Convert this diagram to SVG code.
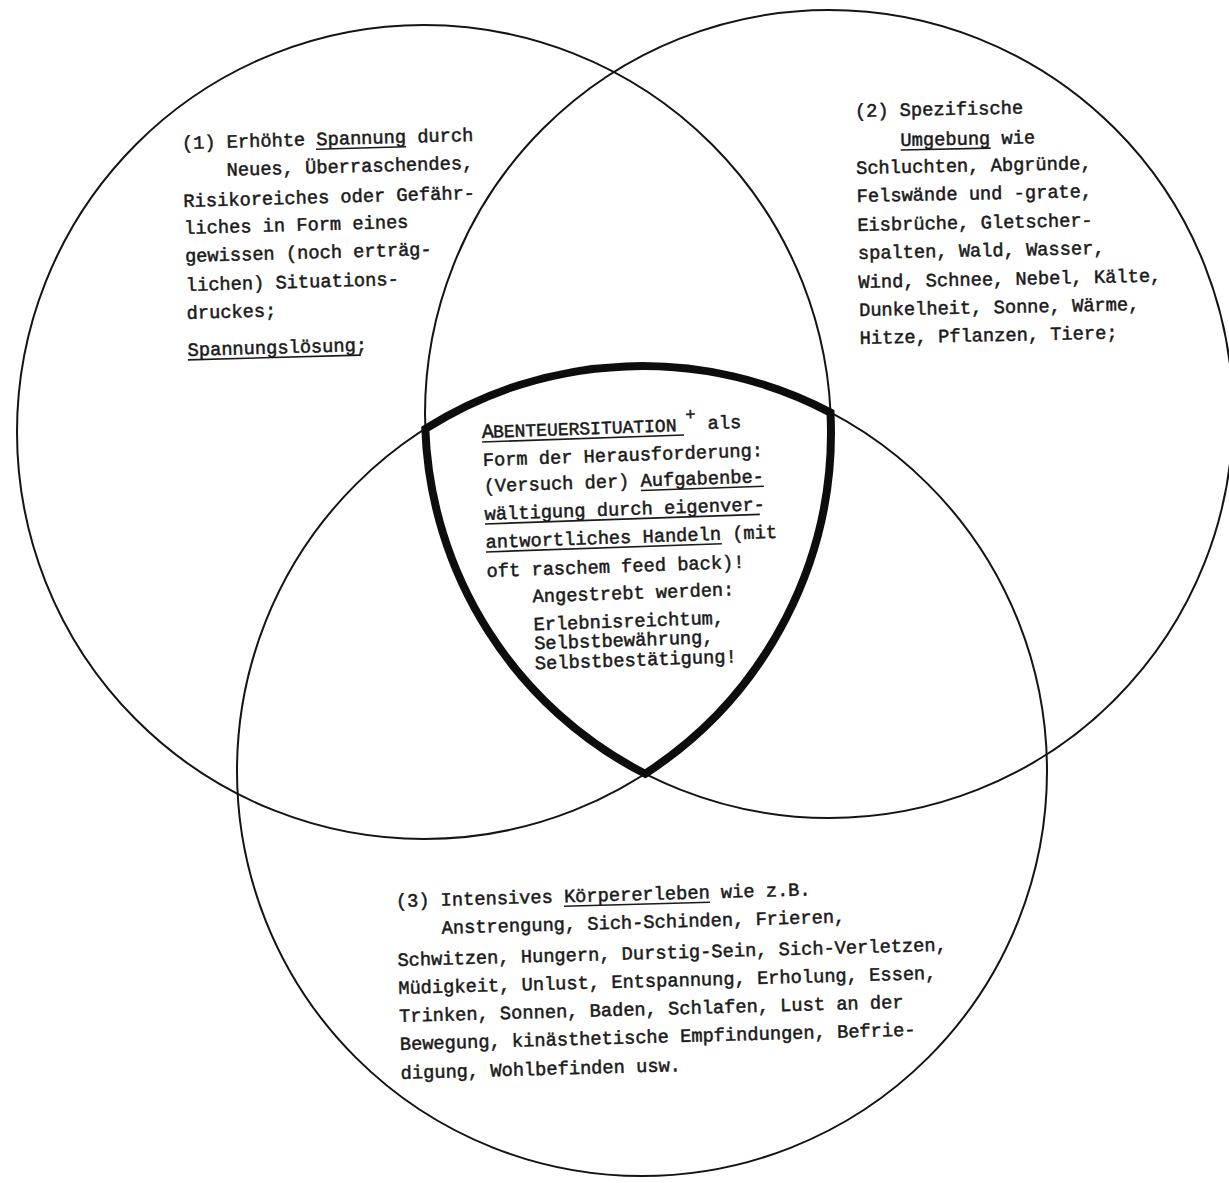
<svg xmlns="http://www.w3.org/2000/svg" width="1229" height="1183" viewBox="0 0 1229 1183">
<style>
.c{fill:none;stroke:#141414;stroke-width:2}
.core{fill:none;stroke:#0d0d0d;stroke-width:8;stroke-linejoin:miter;stroke-miterlimit:10}
.t{font-family:"Liberation Mono","DejaVu Sans Mono",monospace;font-size:18.7px;fill:#1a1a1a;stroke:#1a1a1a;stroke-width:0.5;font-weight:normal}
.u{stroke:#1a1a1a;stroke-width:1.6}
</style>
<rect width="1229" height="1183" fill="#ffffff"/>
<g id="set1">
<circle class="c" cx="424" cy="432" r="407"/>
<g transform="rotate(-1.6 182 149)">
<text class="t" x="182" y="149">(1) Erhöhte Spannung durch</text>
<line class="u" x1="316" y1="153" x2="406" y2="153"/>
<text class="t" x="226" y="177">Neues, Überraschendes,</text>
<text class="t" x="182" y="207">Risikoreiches oder Gefähr-</text>
<text class="t" x="182" y="234">liches in Form eines</text>
<text class="t" x="182" y="262">gewissen (noch erträg-</text>
<text class="t" x="182" y="291">lichen) Situations-</text>
<text class="t" x="182" y="319">druckes;</text>
<text class="t" x="182" y="356">Spannungslösung;</text>
<line class="u" x1="182" y1="360" x2="355" y2="360"/>
</g>
</g>
<g id="set2">
<circle class="c" cx="829" cy="414" r="404"/>
<g transform="rotate(-1.2 855 117)">
<text class="t" x="855" y="117">(2) Spezifische</text>
<text class="t" x="900" y="147">Umgebung wie</text>
<line class="u" x1="900" y1="151" x2="990" y2="151"/>
<text class="t" x="855" y="174">Schluchten, Abgründe,</text>
<text class="t" x="855" y="202">Felswände und -grate,</text>
<text class="t" x="855" y="231">Eisbrüche, Gletscher-</text>
<text class="t" x="855" y="259">spalten, Wald, Wasser,</text>
<text class="t" x="855" y="288">Wind, Schnee, Nebel, Kälte,</text>
<text class="t" x="855" y="316">Dunkelheit, Sonne, Wärme,</text>
<text class="t" x="855" y="344">Hitze, Pflanzen, Tiere;</text>
</g>
</g>
<g id="set3">
<circle class="c" cx="642" cy="771" r="405"/>
<g transform="rotate(-1.6 396 907)">
<text class="t" x="396" y="907">(3) Intensives Körpererleben wie z.B.</text>
<line class="u" x1="564" y1="911" x2="710" y2="911"/>
<text class="t" x="441" y="935">Anstrengung, Sich-Schinden, Frieren,</text>
<text class="t" x="396" y="966">Schwitzen, Hungern, Durstig-Sein, Sich-Verletzen,</text>
<text class="t" x="396" y="994">Müdigkeit, Unlust, Entspannung, Erholung, Essen,</text>
<text class="t" x="396" y="1022">Trinken, Sonnen, Baden, Schlafen, Lust an der</text>
<text class="t" x="396" y="1050">Bewegung, kinästhetische Empfindungen, Befrie-</text>
<text class="t" x="396" y="1079">digung, Wohlbefinden usw.</text>
</g>
</g>
<g id="core">
<path class="core" d="M425.3 428.9 A405 405 0 0 1 830.5 412.6 A407 407 0 0 1 645.1 773.8 A404 404 0 0 1 425.3 428.9 Z"/>
<g transform="rotate(-2 482 438)">
<text class="t" x="482" y="438"><tspan style="font-size:20px">A</tspan><tspan x="493.2" style="font-size:18px">BENTEUERSITUATION</tspan></text>
<text class="t" x="686" y="427" style="font-size:17px">+</text>
<text class="t" x="708" y="437">als</text>
<line class="u" x1="482" y1="442" x2="684" y2="442"/>
<text class="t" x="482" y="466">Form der Herausforderung:</text>
<text class="t" x="482" y="492">(Versuch der) Aufgabenbe-</text>
<line class="u" x1="639" y1="496" x2="762" y2="496"/>
<text class="t" x="482" y="520">wältigung durch eigenver-</text>
<line class="u" x1="482" y1="524" x2="757" y2="524"/>
<text class="t" x="482" y="548">antwortliches Handeln (mit</text>
<line class="u" x1="482" y1="552" x2="718" y2="552"/>
<text class="t" x="482" y="577">oft raschem feed back)!</text>
<text class="t" x="527" y="604">Angestrebt werden:</text>
<text class="t" x="527" y="632">Erlebnisreichtum,</text>
<text class="t" x="527" y="651">Selbstbewährung,</text>
<text class="t" x="527" y="671">Selbstbestätigung!</text>
</g>
</g>
</svg>
